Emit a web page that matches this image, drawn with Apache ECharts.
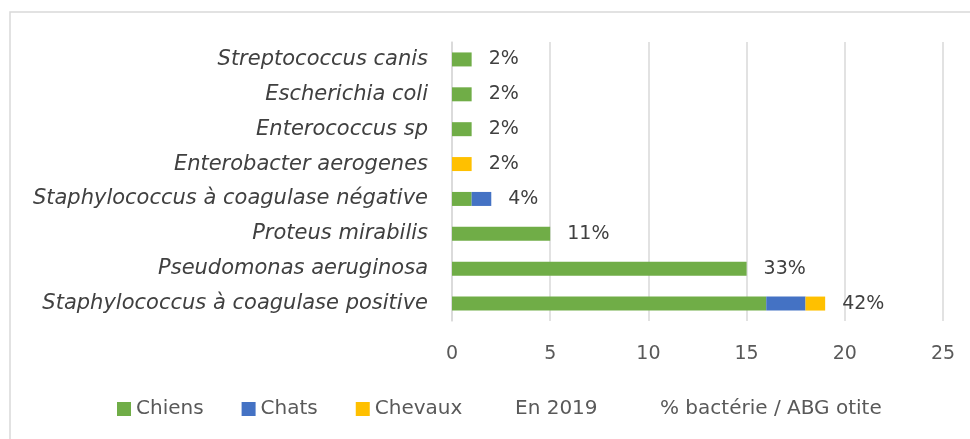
<!DOCTYPE html>
<html>
<head>
<meta charset="utf-8">
<script src="https://cdn.jsdelivr.net/npm/echarts@6/dist/echarts.min.js"></script>
<style>
html, body { margin: 0; padding: 0; background: #fff; }
#chart { width: 970px; height: 439px; }
</style>
</head>
<body>
<div id="chart"></div>
<script>
// bactéries, du haut vers le bas
var categories = ['Streptococcus canis', 'Escherichia coli', 'Enterococcus sp', 'Enterobacter aerogenes',
	'Staphylococcus à coagulase négative', 'Proteus mirabilis', 'Pseudomonas aeruginosa', 'Staphylococcus à coagulase positive'];
var chiens = [1, 1, 1, 0, 1, 5, 15, 16];
var chats = [0, 0, 0, 0, 1, 0, 0, 2];
var chevaux = [0, 0, 0, 1, 0, 0, 0, 1];
var pctLabels = ['2%', '2%', '2%', '2%', '4%', '11%', '33%', '42%'];
var xTicks = [0, 5, 10, 15, 20, 25];

var fontName = '"DejaVu Sans", sans-serif';
var zeros = categories.map(function() { return 0; });
var legendText = { fontSize: 20, color: '#595959', fontFamily: fontName };

var myChart = echarts.init(document.getElementById('chart'));
var option = {
	animation: false,
	textStyle: { fontFamily: fontName },
	graphic: [{
		type: 'rect',
		shape: { x: 10, y: 12, width: 1000, height: 500 },
		style: { fill: 'none', stroke: '#d9d9d9', lineWidth: 1.5 },
		silent: true
	}],
	grid: { left: 452, right: 27, top: 42, bottom: 118 },
	legend: [{
		// espèces
		left: 112, top: 394,
		icon: 'rect',
		itemWidth: 14, itemHeight: 14, itemGap: 38,
		textStyle: legendText,
		data: ['Chiens', 'Chats', 'Chevaux']
	}, {
		left: 505, top: 394,
		icon: 'rect',
		itemWidth: 0, itemHeight: 14,
		textStyle: legendText,
		data: ['En 2019']
	}, {
		left: 636, top: 394,
		icon: 'rect',
		itemWidth: 14, itemHeight: 14,
		textStyle: legendText,
		data: ['% bactérie / ABG otite']
	}],
	xAxis: {
		type: 'value',
		min: xTicks[0],
		max: xTicks[xTicks.length - 1],
		interval: 5,
		axisLine: { show: false },
		axisTick: { show: false },
		axisLabel: { fontSize: 19, color: '#595959', margin: 24 },
		splitLine: { lineStyle: { color: '#d9d9d9', width: 1.5 } }
	},
	yAxis: {
		type: 'category',
		inverse: true,
		data: categories,
		axisLine: { show: true, lineStyle: { color: '#d9d9d9', width: 1.5 } },
		axisTick: { show: false },
		axisLabel: { fontSize: 21, fontStyle: 'italic', color: '#404040', margin: 24 }
	},
	series: [{
		name: 'Chiens', type: 'bar', stack: 'tot', barWidth: 14,
		itemStyle: { color: '#70ad47' }, data: chiens
	}, {
		name: 'Chats', type: 'bar', stack: 'tot', barWidth: 14,
		itemStyle: { color: '#4472c4' }, data: chats
	}, {
		name: 'Chevaux', type: 'bar', stack: 'tot', barWidth: 14,
		itemStyle: { color: '#ffc000' }, data: chevaux
	}, {
		name: 'En 2019', type: 'bar', stack: 'tot', barWidth: 14,
		itemStyle: { color: 'rgba(0,0,0,0)' }, data: []
	}, {
		name: '% bactérie / ABG otite', type: 'bar', stack: 'tot', barWidth: 14,
		itemStyle: { color: 'rgba(0,0,0,0)' },
		data: zeros,
		label: {
			show: true,
			position: 'right',
			distance: 17,
			fontSize: 19,
			color: '#404040',
			formatter: function(p) { return pctLabels[p.dataIndex]; }
		}
	}]
};
myChart.setOption(option);
</script>
</body>
</html>
